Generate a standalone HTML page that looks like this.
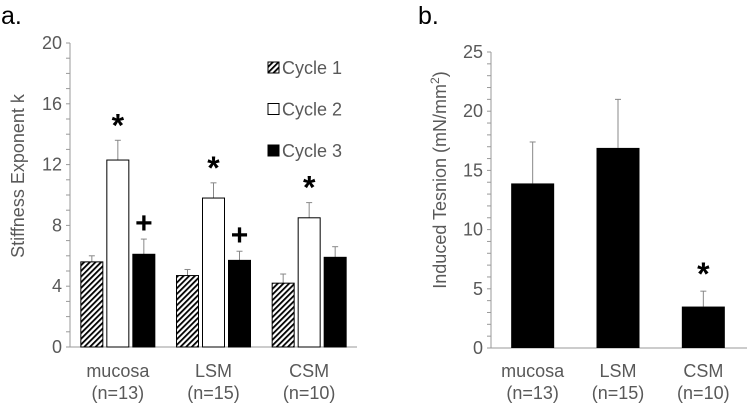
<!DOCTYPE html>
<html><head><meta charset="utf-8"><style>
body{margin:0;background:#fff}
svg{display:block;font-family:"Liberation Sans",Arial,sans-serif}
</style></head><body>
<svg id="c" width="748" height="404" viewBox="0 0 748 404" xmlns="http://www.w3.org/2000/svg">
<defs><pattern id="hatch" width="4" height="4" patternUnits="userSpaceOnUse" patternTransform="rotate(45)"><rect width="4" height="4" fill="#fff"/><rect width="1.8" height="4" fill="#000"/></pattern></defs>
</svg>
<script>
const categories=["mucosa","LSM","CSM"];
const sampleSizes=["(n=13)","(n=15)","(n=10)"];
const seriesNames=["Cycle 1","Cycle 2","Cycle 3"];
const cycle1=[5.6,4.7,4.2];
const cycle2=[12.3,9.8,8.5];
const cycle3=[6.1,5.7,5.9];
const err1=[0.4,0.4,0.6];
const err2=[1.3,1.0,1.0];
const err3=[1.0,0.6,0.7];
const marksA=[["","*","+"],["","*","+"],["","*",""]];
const ticksA=[0,4,8,12,16,20];
const tensionVals=[13.9,16.9,3.5];
const tensionErr=[3.5,4.1,1.3];
const marksB=["","","*"];
const ticksB=[0,5,10,15,20,25];

const svg=document.getElementById('c');
const NS="http://www.w3.org/2000/svg";
function mk(tag,attrs,parent,text){const e=document.createElementNS(NS,tag);for(const k in attrs)e.setAttribute(k,attrs[k]);if(text!==undefined)e.textContent=text;(parent||svg).appendChild(e);return e;}
const gray="#595959";
const FS=18;

// Panel a
const ga=mk('g',{});


const aX0=70,aX1=357,aY0=347,aY1=43,aMax=20;
const ya=v=>aY0-(aY0-aY1)*v/aMax;
let t=mk('text',{x:1,y:24,'font-size':25,fill:'#000'},ga,'a.');


for(let v=0;v<=aMax;v+=1){mk('line',{x1:aX0-4,x2:aX0,y1:ya(v),y2:ya(v),stroke:'#999','stroke-width':1},ga);}
ticksA.forEach(v=>{const e=mk('text',{x:aX0-8,y:ya(v)+6,'font-size':FS,fill:gray,'text-anchor':'end'},ga,String(v));

});
let ax=mk('line',{x1:aX0,x2:aX0,y1:aY1,y2:aY0,stroke:'#999'},ga);


ax=mk('line',{x1:aX0,x2:aX1,y1:aY0,y2:aY0,stroke:'#999'},ga);


t=mk('text',{x:0,y:0,'font-size':FS,fill:gray,'text-anchor':'middle',transform:'translate(24,176) rotate(-90)'},ga,'Stiffness Exponent k');


const fills=['url(#hatch)','#fff','#000'];
const series=[cycle1,cycle2,cycle3],errs=[err1,err2,err3];
const groupW=(aX1-aX0)/3,bw=22,gap=4;
categories.forEach((c,i)=>{
 const cx=aX0+groupW*(i+0.5);
 series.forEach((s,j)=>{
  const x=cx+(j-1)*(bw+gap)-bw/2;
  const top=ya(s[i]+errs[j][i]);
  let l=mk('line',{x1:x+bw/2,x2:x+bw/2,y1:ya(s[i]),y2:top,stroke:'#888'},ga);
  
  
  mk('line',{x1:x+bw/2-3,x2:x+bw/2+3,y1:top,y2:top,stroke:'#888'},ga);
  const r=mk('rect',{x:x,y:ya(s[i]),width:bw,height:aY0-ya(s[i]),fill:fills[j],stroke:'#000','stroke-width':1},ga);
  
  
  const m=marksA[i][j];
  if(m){const e=mk('text',{x:x+bw/2,y:m=='*'?top-4:top-6,'font-size':m=='*'?32:30,'font-weight':'bold','text-anchor':'middle',fill:'#000'},ga,m);
  
  }
 });
 let e=mk('text',{x:cx,y:377,'font-size':FS,fill:gray,'text-anchor':'middle'},ga,c);
 
 
 e=mk('text',{x:cx,y:399,'font-size':FS,fill:gray,'text-anchor':'middle'},ga,sampleSizes[i]);
 
 
});
seriesNames.forEach((n,j)=>{
 const y=67+j*41.5;
 const g=mk('g',{},ga);
 
 
 mk('rect',{x:268,y:y-5,width:11,height:11,fill:fills[j],stroke:'#000'},g);
 mk('text',{x:282,y:y+7,'font-size':FS,fill:gray},g,n);
});

// Panel b
const gb=mk('g',{});


const bX0=491,bX1=747,bY0=348,bY1=52,bMax=25;
const yb=v=>bY0-(bY0-bY1)*v/bMax;
t=mk('text',{x:418,y:24,'font-size':25,fill:'#000'},gb,'b.');


for(let v=0;v<=bMax;v+=1){mk('line',{x1:bX0-4,x2:bX0,y1:yb(v),y2:yb(v),stroke:'#999'},gb);}
ticksB.forEach(v=>{const e=mk('text',{x:bX0-8,y:yb(v)+6,'font-size':FS,fill:gray,'text-anchor':'end'},gb,String(v));

});
ax=mk('line',{x1:bX0,x2:bX0,y1:bY1,y2:bY0,stroke:'#999'},gb);


ax=mk('line',{x1:bX0,x2:bX1,y1:bY0,y2:bY0,stroke:'#999'},gb);


t=mk('text',{x:0,y:0,'font-size':FS,fill:gray,'text-anchor':'middle',transform:'translate(446,180) rotate(-90)'},gb);


t.innerHTML='Induced Tesnion (mN/mm<tspan dy="-7" font-size="12">2</tspan><tspan dy="7">)</tspan>';
const gwB=(bX1-bX0)/3,bwB=43;
categories.forEach((c,i)=>{
 const cx=bX0+gwB*(i+0.5)-1;
 const x=cx-bwB/2,top=yb(tensionVals[i]+tensionErr[i]);
 let l=mk('line',{x1:cx,x2:cx,y1:yb(tensionVals[i]),y2:top,stroke:'#888'},gb);
 
 
 mk('line',{x1:cx-3,x2:cx+3,y1:top,y2:top,stroke:'#888'},gb);
 const r=mk('rect',{x:x,y:yb(tensionVals[i]),width:bwB,height:bY0-yb(tensionVals[i]),fill:'#000'},gb);
 
 
 if(marksB[i]){const e=mk('text',{x:cx,y:top-6,'font-size':32,'font-weight':'bold','text-anchor':'middle',fill:'#000'},gb,marksB[i]);
 
 }
 let e=mk('text',{x:cx,y:377,'font-size':FS,fill:gray,'text-anchor':'middle'},gb,c);
 
 
 e=mk('text',{x:cx,y:399,'font-size':FS,fill:gray,'text-anchor':'middle'},gb,sampleSizes[i]);
 
 
});
</script>
</body></html>
